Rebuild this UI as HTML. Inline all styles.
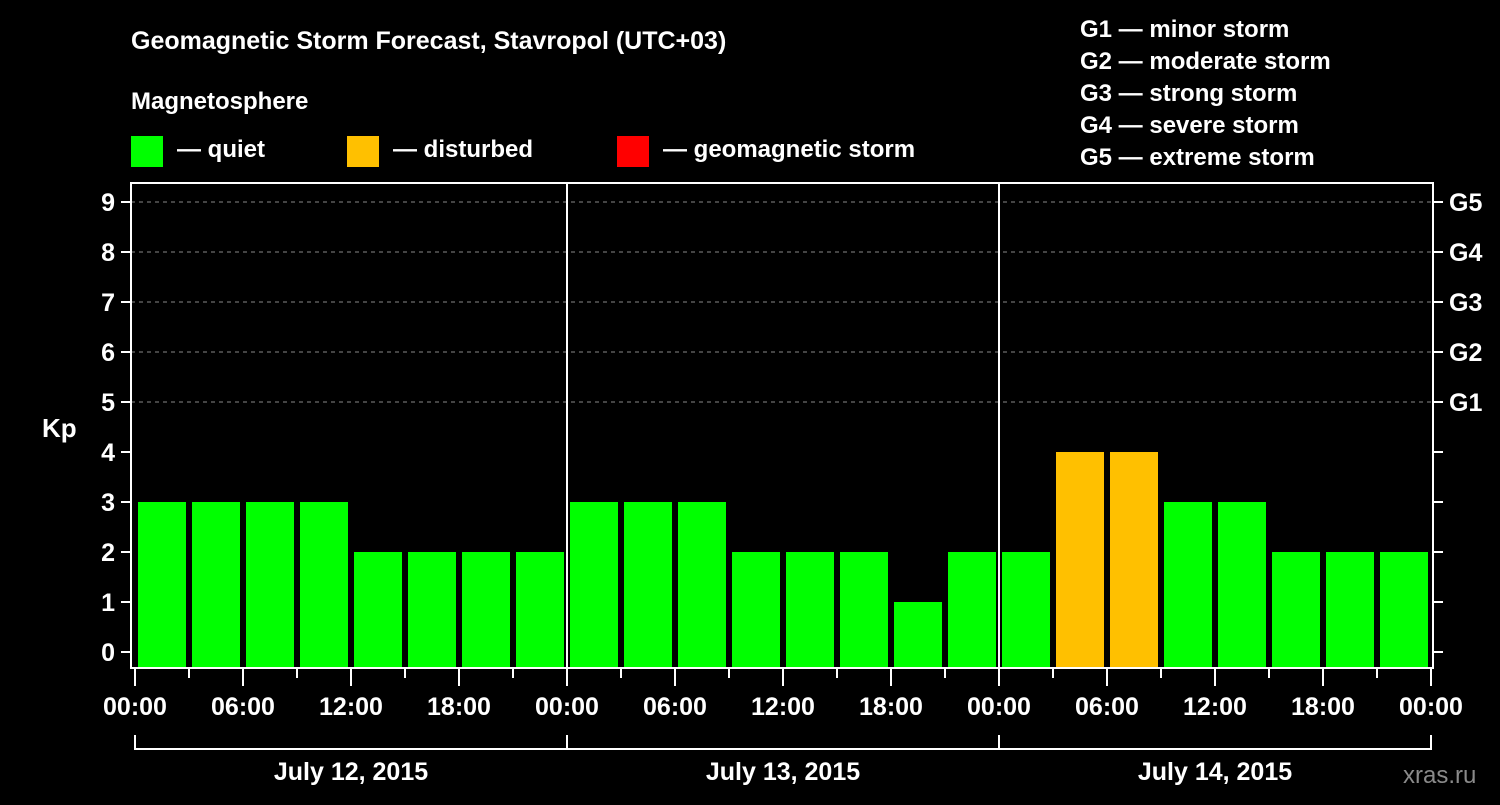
<!DOCTYPE html>
<html><head><meta charset="utf-8"><style>
body{margin:0;background:#000;width:1500px;height:800px;overflow:hidden}
svg text{font-family:"Liberation Sans",Arial,sans-serif;font-weight:bold;fill:#fff}
</style></head><body>
<svg id="c" width="1500" height="800">
<text x="131" y="49" font-size="25">Geomagnetic Storm Forecast, Stavropol (UTC+03)</text>
<text x="131" y="109" font-size="24">Magnetosphere</text>
<g><rect x="131" y="136" width="32" height="31" fill="#00ff00"/><text x="177" y="157" font-size="24">— quiet</text></g>
<g><rect x="347" y="136" width="32" height="31" fill="#ffc000"/><text x="393" y="157" font-size="24">— disturbed</text></g>
<g><rect x="617" y="136" width="32" height="31" fill="#ff0000"/><text x="663" y="157" font-size="24">— geomagnetic storm</text></g>
<g font-size="24">
<text x="1080" y="37">G1 — minor storm</text><text x="1080" y="69">G2 — moderate storm</text><text x="1080" y="101">G3 — strong storm</text><text x="1080" y="133">G4 — severe storm</text><text x="1080" y="165">G5 — extreme storm</text></g>
<text x="42" y="437" font-size="26">Kp</text>
<text x="1403" y="783" font-size="24" fill="#888" style="fill:#8a8a8a;font-weight:normal">xras.ru</text>
<g id="plot"></g>
</svg>
<script>
const kpValues=[3,3,3,3,2,2,2,2, 3,3,3,2,2,2,1,2, 2,4,4,3,3,2,2,2];
const dayLabels=["July 12, 2015","July 13, 2015","July 14, 2015"];
const timeLabels=["00:00","06:00","12:00","18:00"];
const gLabels=["G1","G2","G3","G4","G5"];
const NS="http://www.w3.org/2000/svg";
const g=document.getElementById('plot');
const X0=135,SLOT=54,L=131,R=1433,T=183,B=668;
const x=i=>X0+SLOT*i;
const y=v=>652-50*v;
function mk(t,a,txt){const e=document.createElementNS(NS,t);for(const k in a)e.setAttribute(k,a[k]);if(txt!=null)e.textContent=txt;g.appendChild(e);return e;}
for(let v=5;v<=9;v++){const l=mk('line',{x1:L,x2:R,y1:y(v),y2:y(v),stroke:'#888','stroke-dasharray':'4,4','stroke-width':1});

}
kpValues.forEach((v,i)=>{const c=v>=5?'#ff0000':v>=4?'#ffc000':'#00ff00';
const r=mk('rect',{x:x(i)+3,y:y(v),width:48,height:B-y(v),fill:c});

});
mk('rect',{x:L,y:T,width:R-L,height:B-T,fill:'none',stroke:'#fff','stroke-width':2});
for(let d=1;d<dayLabels.length;d++){const l=mk('line',{x1:x(8*d),x2:x(8*d),y1:T,y2:B,stroke:'#fff','stroke-width':2});

}
for(let v=0;v<=9;v++){mk('line',{x1:L-10,x2:L,y1:y(v),y2:y(v),stroke:'#fff','stroke-width':2});
mk('line',{x1:R,x2:R+10,y1:y(v),y2:y(v),stroke:'#fff','stroke-width':2});
const t=mk('text',{x:L-16,y:y(v)+9,'font-size':25,'text-anchor':'end'},String(v));

}
gLabels.forEach((s,i)=>{const t=mk('text',{x:R+16,y:y(5+i)+9,'font-size':25},s);

});
const nSlots=kpValues.length;
for(let i=0;i<=nSlots;i++){const major=i%2===0;mk('line',{x1:x(i),x2:x(i),y1:B,y2:B+(major?18:10),stroke:'#fff','stroke-width':2});
if(major){const t=mk('text',{x:x(i),y:B+47,'font-size':25,'text-anchor':'middle'},timeLabels[(i/2)%4]);

}}
mk('line',{x1:x(0),x2:x(nSlots),y1:749,y2:749,stroke:'#fff','stroke-width':2});
dayLabels.forEach((s,d)=>{mk('line',{x1:x(8*d),x2:x(8*d),y1:735,y2:750,stroke:'#fff','stroke-width':2});
const t=mk('text',{x:(x(8*d)+x(8*d+8))/2,y:780,'font-size':25,'text-anchor':'middle'},s);

});
mk('line',{x1:x(nSlots),x2:x(nSlots),y1:735,y2:750,stroke:'#fff','stroke-width':2});
</script>
</body></html>
